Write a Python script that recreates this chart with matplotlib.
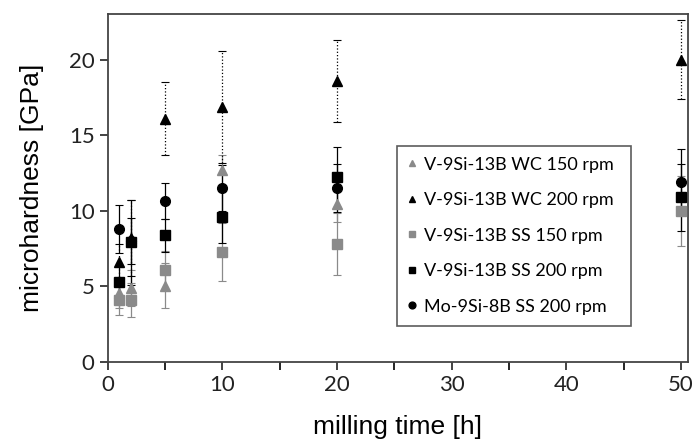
import numpy as np
import matplotlib.pyplot as plt
from matplotlib.lines import Line2D

plt.rcParams['font.family'] = ['Lato', 'DejaVu Sans']

# milling time [h]
t_wc150 = [1, 2, 5, 10, 20]
hv_wc150 = [4.55, 4.9, 5.05, 12.7, 10.44]
err_wc150 = [1.0, 1.2, 1.5, 1.0, 1.2]

t_wc200 = [1, 2, 5, 10, 20, 50]
hv_wc200 = [6.6, 8.2, 16.1, 16.85, 18.56, 20.0]
err_wc200 = [1.2, 2.5, 2.4, 3.7, 2.7, 2.6]

t_ss150 = [1, 2, 5, 10, 20, 50]
hv_ss150 = [4.1, 4.1, 6.05, 7.26, 7.81, 10.0]
err_ss150 = [1.0, 1.1, 1.3, 1.9, 2.05, 2.3]

t_ss200 = [1, 2, 5, 10, 20, 50]
hv_ss200 = [5.28, 7.9, 8.37, 9.58, 12.23, 10.88]
err_ss200 = [1.1, 2.8, 1.1, 1.7, 2.0, 2.2]

t_mo = [1, 2, 5, 10, 20, 50]
hv_mo = [8.81, 8.0, 10.66, 11.5, 11.5, 11.9]
err_mo = [1.6, 1.5, 1.2, 1.5, 1.6, 2.2]

gray = '#8a8a8a'

fig = plt.figure(figsize=(6.95, 4.43), dpi=100)
ax = fig.add_axes([0.155, 0.183, 0.835, 0.785])

handles = []
def series(t, v, e, marker, color, label, ls='-', ms=7):
    cont = ax.errorbar(t, v, yerr=e, fmt=marker, color=color, ms=ms,
                       ecolor=color, elinewidth=0.9, capsize=3, capthick=0.8,
                       zorder=3)
    cont[2][0].set_linestyle(ls)
    handles.append(Line2D([], [], marker=marker, color=color, ls='none',
                          ms=ms * 0.7, label=label))

series(t_wc150, hv_wc150, err_wc150, '^', gray, 'V-9Si-13B WC 150 rpm')
series(t_wc200, hv_wc200, err_wc200, '^', 'black', 'V-9Si-13B WC 200 rpm', ls=':')
series(t_ss150, hv_ss150, err_ss150, 's', gray, 'V-9Si-13B SS 150 rpm')
series(t_ss200, hv_ss200, err_ss200, 's', 'black', 'V-9Si-13B SS 200 rpm')
series(t_mo, hv_mo, err_mo, 'o', 'black', 'Mo-9Si-8B SS 200 rpm')

ax.set_xlim(0, 50.6)
ax.set_ylim(0, 23)
ax.set_xticks(np.arange(0, 51, 10))
ax.set_xticks(np.arange(0, 51, 5), minor=True)
ax.set_yticks(np.arange(0, 21, 5))
ax.tick_params(direction='out', length=6, width=1.2, labelsize=16, colors='#222222')
ax.tick_params(which='minor', direction='out', length=6, width=1.2)
for s in ax.spines.values():
    s.set_linewidth(1.3)
    s.set_color('#444444')

label_font = ['Liberation Sans', 'DejaVu Sans']
ax.set_xlabel('milling time [h]', fontsize=19, labelpad=14, family=label_font)
ax.set_ylabel('microhardness [GPa]', fontsize=19, labelpad=18, family=label_font)

leg = ax.legend(handles=handles, loc='upper left',
                bbox_to_anchor=(0.4985, 0.112, 0.4035, 0.509),
                mode='expand', fontsize=13, frameon=True, fancybox=False,
                edgecolor='#333333', handlelength=0.5, borderaxespad=0,
                handletextpad=0.4, labelspacing=1.08, borderpad=0.6)
leg.get_frame().set_linewidth(1.2)

fig.savefig('out.png', dpi=100)
